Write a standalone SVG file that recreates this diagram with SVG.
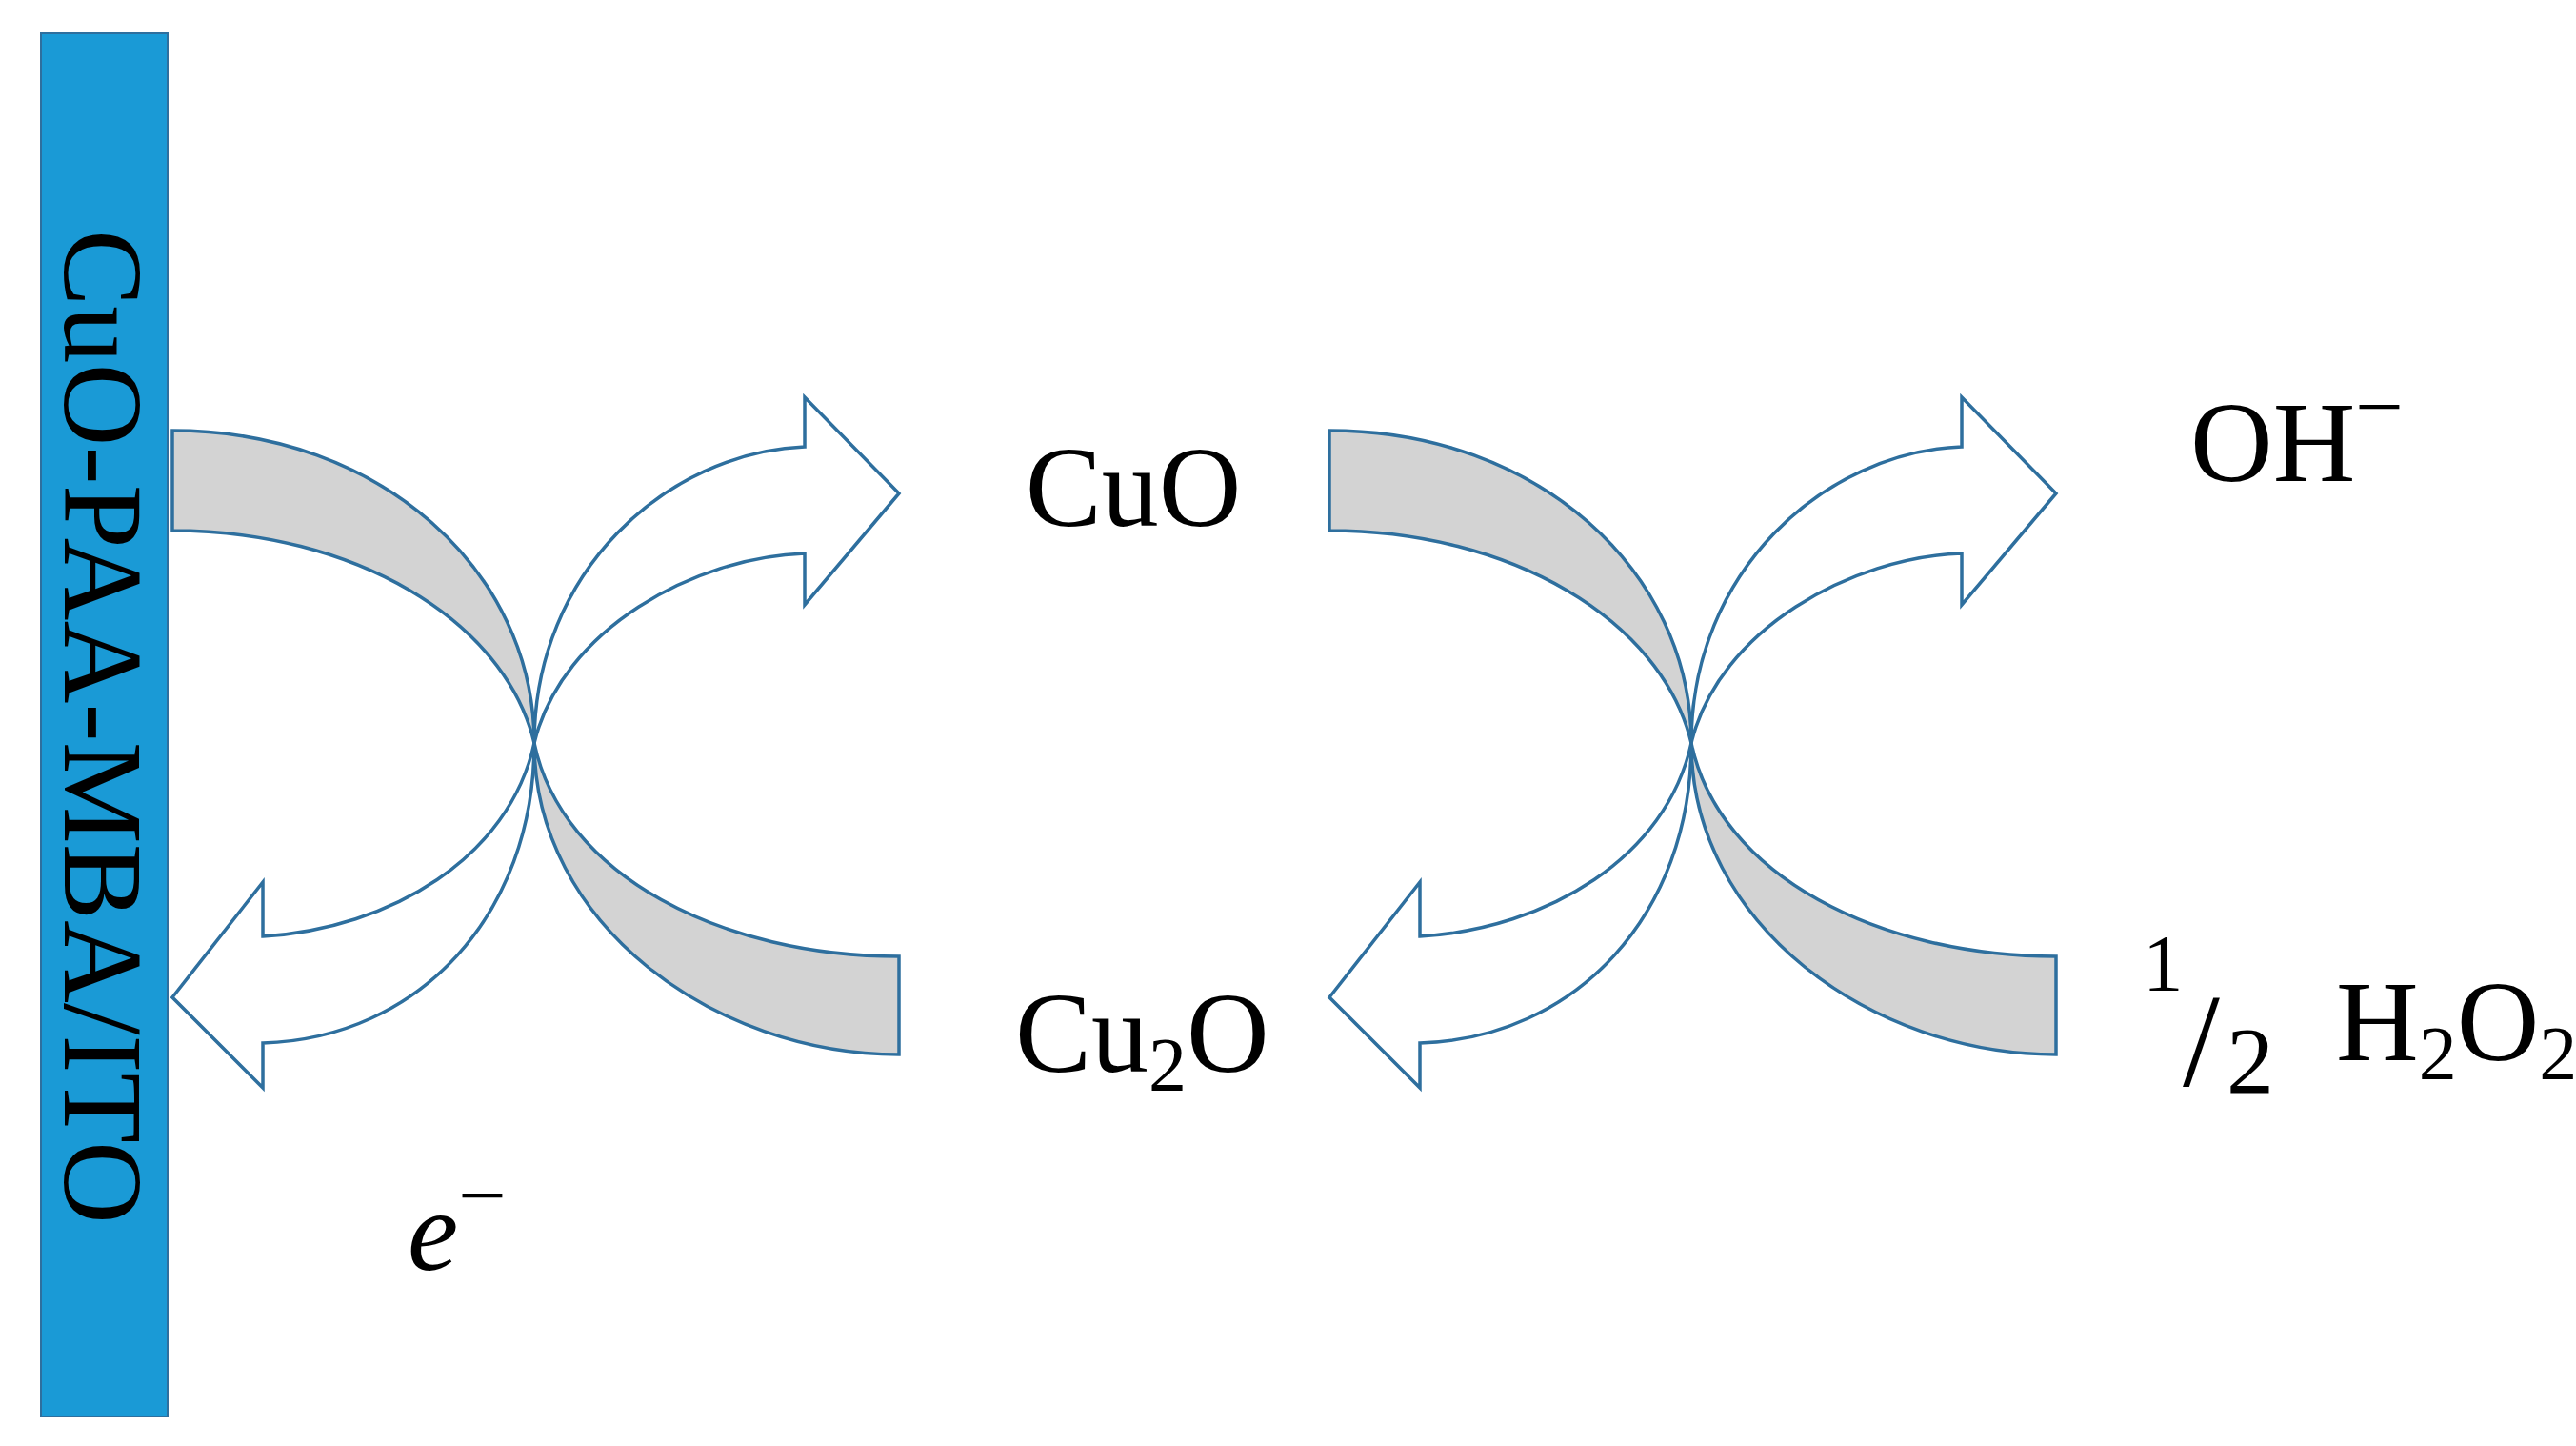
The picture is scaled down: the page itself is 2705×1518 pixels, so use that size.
<svg xmlns="http://www.w3.org/2000/svg" width="2705" height="1518" viewBox="0 0 2705 1518">
<style>
.band{fill:#d3d3d3;stroke:#2e6f9e;stroke-width:3.5}
.arr{fill:#fff;stroke:#2e6f9e;stroke-width:3.5}
.t{font-family:"Liberation Serif",serif;fill:#000}
</style>
<rect width="2705" height="1518" fill="#fff"/>
<g id="electrode">
<rect x="43" y="35" width="133" height="1452" fill="#1a9ad6" stroke="#2e6f9e" stroke-width="2"/>
<text class="t" transform="translate(68,241) rotate(90)" font-size="119" textLength="1044" lengthAdjust="spacingAndGlyphs">CuO-PAA-MBA/ITO</text>
</g>
<g id="connectors">
<g id="pair1">
<path class="band" d="M181,452 C400,452 561,600 561,780 C590,920 760,1004 944,1004 L944,1107 C750,1107 561,970 561,780 C530,650 370,557 181,557 Z"/>
<path class="arr" d="M561,780 C561,600 700,475 845,469 L845,417 L944,518 L845,635 L845,581 C730,585 590,660 561,780 Z"/>
<path class="arr" d="M561,780 C535,900 410,975 276,983 L276,926 L181,1047 L276,1142 L276,1095 C440,1090 561,960 561,780 Z"/>
</g>
<g id="pair2" transform="translate(1215,0)">
<path class="band" d="M181,452 C400,452 561,600 561,780 C590,920 760,1004 944,1004 L944,1107 C750,1107 561,970 561,780 C530,650 370,557 181,557 Z"/>
<path class="arr" d="M561,780 C561,600 700,475 845,469 L845,417 L944,518 L845,635 L845,581 C730,585 590,660 561,780 Z"/>
<path class="arr" d="M561,780 C535,900 410,975 276,983 L276,926 L181,1047 L276,1142 L276,1095 C440,1090 561,960 561,780 Z"/>
</g>
</g>
<g id="label-cuo"><text class="t" x="1190" y="552" font-size="120" text-anchor="middle">CuO</text></g>
<g id="label-cu2o"><text class="t" x="1066" y="1125" font-size="120">Cu<tspan font-size="80" dy="20">2</tspan><tspan dy="-20">O</tspan></text></g>
<g id="label-e"><text class="t" x="428" y="1333" font-size="120" font-style="italic">e<tspan font-style="normal" font-size="90" dy="-48">−</tspan></text></g>
<g id="label-oh"><text class="t" x="2300" y="505" font-size="120">OH<tspan font-size="90" dy="-48">−</tspan></text></g>
<g id="label-h2o2">
<text class="t" x="2250" y="1040" font-size="85">1</text>
<text class="t" x="2292" y="1140" font-size="140">/</text>
<text class="t" x="2338" y="1147" font-size="100">2</text>
<text class="t" x="2453" y="1113" font-size="120">H<tspan font-size="80" dy="20">2</tspan><tspan dy="-20">O</tspan><tspan font-size="80" dy="20">2</tspan></text>
</g>
</svg>
